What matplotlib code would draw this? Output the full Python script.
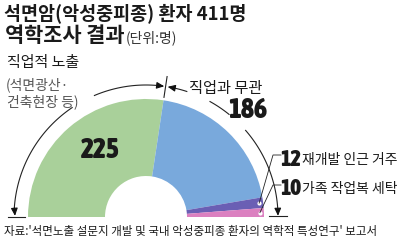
import numpy as np
import matplotlib.pyplot as plt

plt.rcParams['font.family'] = ['Noto Sans CJK KR', 'DejaVu Sans']

# 직업적 노출 225, 직업과 무관 186 (= 164 + 12 + 10)
labels = ['직업적 노출', '직업과 무관', '재개발 인근 거주', '가족 작업복 세탁']
values = [225, 164, 12, 10]
shown = [225, 186, 12, 10]
colors = ['#a9d09a', '#79a9dc', '#6a5fb4', '#db80c0']
total = sum(values)

fig = plt.figure(figsize=(4.05, 2.4), dpi=100)
ax = fig.add_axes([0, 0, 1, 1])

cx, cy, R, r_in = 146, 217, 118, 41
# y axis is inverted (pixel coords), so counterclock=True runs left -> top -> right on screen
ax.pie(values + [total], colors=colors + ['none'], startangle=180, counterclock=True,
       center=(cx, cy), radius=R, wedgeprops=dict(width=R - r_in, linewidth=0))
ax.set_xlim(0, 405)
ax.set_ylim(240, 0)
ax.set_aspect('equal')
ax.axis('off')


def pt(theta, r):
    t = np.radians(theta)
    return cx + r * np.cos(t), cy - r * np.sin(t)


def arc(a0, a1, r=132):
    th = np.linspace(a0, a1, 60)
    x, y = pt(th, r)
    ax.plot(x, y, color='#222222', lw=0.8)


def head(xy, frm):
    ax.annotate('', xy=xy, xytext=frm,
                arrowprops=dict(arrowstyle='-|>,head_length=0.45,head_width=0.2',
                                color='#111111', lw=0.8, shrinkA=0, shrinkB=0))


# slice angles
cum = np.cumsum([0] + values)
ang = 180 - cum / total * 180
bound = ang[1]

# white dots on the two small slices
for i in (2, 3):
    mid = (ang[i] + ang[i + 1]) / 2
    x, y = pt(mid, 114)
    ax.plot(x, y, 'o', ms=3, mfc='white', mec='none')

# arcs around the donut
arc(124, 177)
head(pt(179.5, 131), pt(176, 132))
arc(113, 83)
head(pt(bound + 0.6, 132), pt(bound + 3, 132))
bx0, by0 = pt(bound, 121)
bx1, by1 = pt(bound, 142)
ax.plot([bx0, bx1], [by0, by1], color='#222222', lw=0.8)
arc(72, 79)
head(pt(bound - 0.9, 132), pt(bound - 3.5, 132))
arc(61, 51)
arc(41, 3)
head(pt(0.5, 132), pt(3, 132))
ax.plot([8, 25], [217, 217], color='#222222', lw=0.8)
ax.plot([269, 287], [216, 216], color='#222222', lw=0.8)

# leader lines for small slices
for i, ty in ((2, 155), (3, 185)):
    mid = (ang[i] + ang[i + 1]) / 2
    x, y = pt(mid, 114)
    ax.plot([x, 273, 281], [y, ty, ty], color='#222222', lw=0.6)

num_font = dict(family=['Asap Condensed', 'DejaVu Sans'], weight=900, color='#1a1a1a')

# title
ax.text(4, 13, '석면암(악성중피종) 환자 411명', fontsize=13.3, weight=900, va='center', color='#1a1a1a')
t2 = ax.text(5, 36, '역학조사 결과', fontsize=15, weight=900, va='center', color='#1a1a1a')
ax.annotate('(단위:명)', xy=(1, 0.5), xycoords=t2, xytext=(1, -1), textcoords='offset points',
            fontsize=10, va='center', color='#333333')

# category labels
ax.text(7, 63, labels[0], fontsize=10.8, va='center', color='#1a1a1a')
ax.text(6, 85, '(석면광산·', fontsize=10, va='center', color='#555555')
ax.text(7, 102, '건축현장 등)', fontsize=10, va='center', color='#555555')
ax.text(189, 88, labels[1], fontsize=11, va='center', color='#1a1a1a')
ax.text(100, 151, str(shown[0]), fontsize=20, ha='center', va='center', **num_font)
ax.text(248, 111, str(shown[1]), fontsize=20, ha='center', va='center', **num_font)
ax.text(280, 160, str(shown[2]), fontsize=16, va='center', **num_font)
ax.text(302, 160, labels[2], fontsize=10, va='center', color='#1a1a1a')
ax.text(280, 189, str(shown[3]), fontsize=16, va='center', **num_font)
ax.text(302, 189, labels[3], fontsize=10, va='center', color='#1a1a1a')

ax.text(4, 231, "자료:'석면노출 설문지 개발 및 국내 악성중피종 환자의 역학적 특성연구' 보고서",
        fontsize=8.3, va='center', color='#1a1a1a')

fig.savefig('out.png', dpi=100, facecolor='white')
